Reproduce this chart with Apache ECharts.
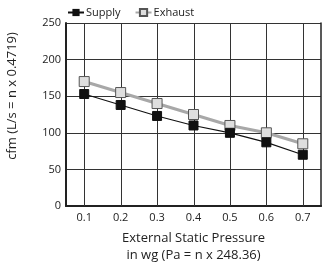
<!DOCTYPE html>
<html>
<head>
<meta charset="utf-8">
<script src="https://cdn.jsdelivr.net/npm/echarts@6/dist/echarts.min.js"></script>
<style>
  html, body { margin: 0; padding: 0; background: #fff; }
  #chart { width: 331px; height: 280px; }
</style>
</head>
<body>
<div id="chart"></div>
<script>
// static pressure (in wg) and airflow (cfm)
const pressure = [0.1, 0.2, 0.3, 0.4, 0.5, 0.6, 0.7]
const supply = [153, 138, 123, 110, 100, 87, 70]
const exhaust = [170, 155, 140, 125, 110, 100, 85]

const FONT = '"Open Sans", "Noto Sans", sans-serif'

const pairs = vals => pressure.map((p, i) => [p, vals[i]])

var chart = echarts.init(document.getElementById('chart'))

// vertical grid lines at each pressure step (x range is offset by half a step)
function gridLine(params, api) {
  var top = api.coord([api.value(0), 250])
  var bot = api.coord([api.value(0), 0])
  var x = Math.round(top[0]) + 0.5
  return {
    type: 'line',
    shape: { x1: x, y1: top[1], x2: x, y2: bot[1] },
    style: { stroke: '#333', lineWidth: 1 }
  }
}

const border = { show: true, lineStyle: { color: '#222', width: 1.5 } }

chart.setOption({
  animation: false,
  textStyle: { fontFamily: FONT },
  legend: {
    top: 2,
    left: 62,
    itemGap: 14,
    itemWidth: 16,
    itemHeight: 9,
    textStyle: { fontSize: 11, color: '#222', fontFamily: FONT, padding: [0, 0, 0, -3] },
    data: ['Supply', 'Exhaust']
  },
  grid: { left: 66, right: 10, top: 23, bottom: 74 },
  xAxis: [{
    type: 'value',
    min: 0.05,
    max: 0.75,
    name: 'External Static Pressure\nin wg (Pa = n x 248.36)',
    nameLocation: 'middle',
    nameGap: 24,
    nameTextStyle: { fontSize: 13, color: '#222', lineHeight: 17, verticalAlign: 'top' },
    axisLine: { lineStyle: { color: '#222', width: 2 } },
    axisTick: { show: false, customValues: pressure },
    splitLine: { show: false },
    axisLabel: {
      customValues: pressure,
      formatter: v => v.toFixed(1),
      fontSize: 11, color: '#222', margin: 6
    }
  }, {
    type: 'value',
    position: 'top',
    min: 0.05,
    max: 0.75,
    axisLine: border,
    axisTick: { show: false },
    axisLabel: { show: false },
    splitLine: { show: false }
  }],
  yAxis: [{
    type: 'value',
    min: 0,
    max: 250,
    interval: 50,
    axisLine: { show: true, lineStyle: { color: '#222', width: 2 } },
    axisTick: { show: false },
    splitLine: { lineStyle: { color: '#333', width: 1 } },
    axisLabel: { fontSize: 11, color: '#222', margin: 5 }
  }, {
    type: 'value',
    position: 'right',
    min: 0,
    max: 250,
    axisLine: border,
    axisTick: { show: false },
    axisLabel: { show: false },
    splitLine: { show: false }
  }],
  graphic: [{
    type: 'text',
    x: 6,
    y: 96,
    rotation: Math.PI / 2,
    style: {
      text: 'cfm (L/s = n x 0.4719)',
      font: '13px ' + FONT,
      fill: '#222',
      align: 'center',
      verticalAlign: 'top'
    }
  }],
  series: [{
    type: 'custom',
    z: 1,
    renderItem: gridLine,
    data: pressure.map(p => [p, 0])
  }, {
    name: 'Exhaust',
    type: 'line',
    data: pairs(exhaust),
    symbol: 'rect',
    symbolSize: 10,
    lineStyle: { color: '#a8a8a8', width: 3 },
    itemStyle: { color: '#dedede', borderColor: '#555', borderWidth: 1 },
    z: 3
  }, {
    name: 'Supply',
    type: 'line',
    data: pairs(supply),
    symbol: 'rect',
    symbolSize: 9,
    lineStyle: { color: '#111', width: 1.2 },
    itemStyle: { color: '#111', borderColor: '#111' },
    z: 4
  }]
})
</script>
</body>
</html>
